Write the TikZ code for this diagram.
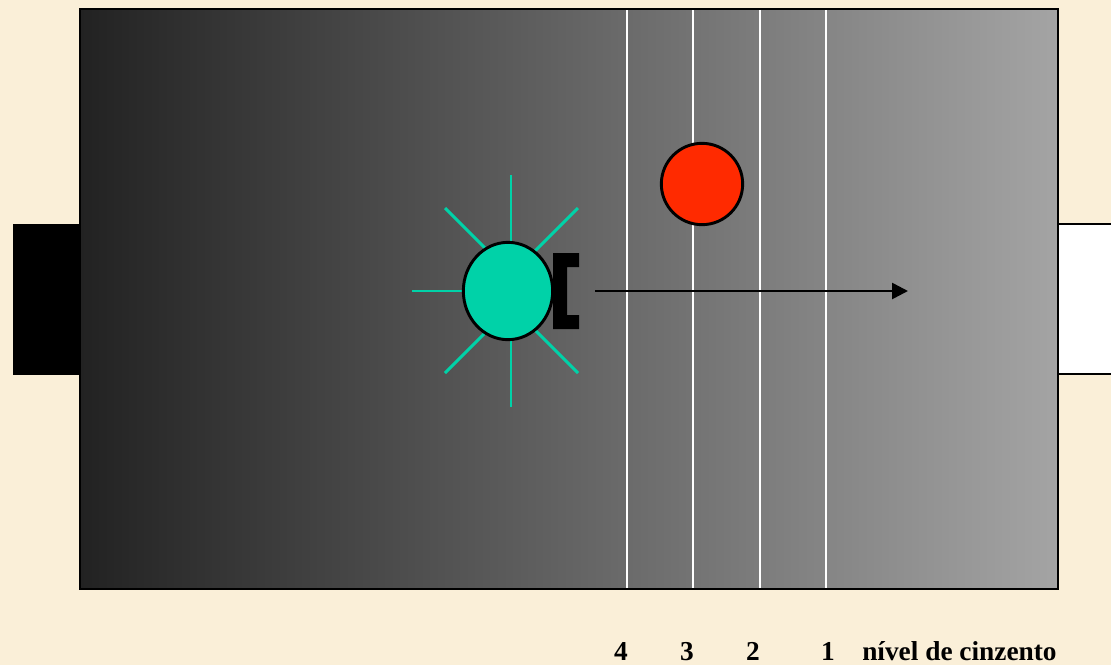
\documentclass[tikz,border=0pt]{standalone}
\usepackage{fontspec}
\setmainfont{Liberation Serif}
\usetikzlibrary{arrows.meta,shapes.geometric}
\definecolor{parch}{RGB}{250,239,216}
\definecolor{teal1}{RGB}{0,210,168}
\definecolor{red1}{RGB}{255,42,0}
\definecolor{gdark}{RGB}{34,34,34}
\definecolor{glight}{RGB}{164,164,164}
\tikzset{
  frame/.style={draw=black,line width=2.2pt},
  level/.style={draw=white,line width=2pt},
  ray/.style={draw=teal1,line width=2.2pt},
  ball/.style={draw=black,line width=2.2pt,inner sep=0pt},
  lbl/.style={font=\bfseries\fontsize{20.5}{23}\selectfont,anchor=base,inner sep=0pt}
}
\begin{document}
\begin{tikzpicture}[x=0.75pt,y=-0.75pt]
\useasboundingbox (0,0) rectangle (1111,665);
\fill[parch] (0,0) rectangle (1111,665);
% side blocks
\fill[black] (13,224) rectangle (82,375);
\draw[frame,fill=white] (1058,224) rectangle (1118,374);
% main box with gradient
\shade[left color=gdark,right color=glight] (80,9) rectangle (1058,589);
% level lines
\foreach \x in {627,693,760,826}{
  \draw[level] (\x,9) -- (\x,589);
}
\draw[frame] (80,9) rectangle (1058,589);
% red ball
\node[ball,fill=red1,circle,minimum size=61pt] (red) at (702,184) {};
% teal light with rays
\coordinate (rc) at (511,291);
\draw[ray] (rc) -- (511,175);
\draw[ray] (rc) -- (511,407);
\draw[ray] (rc) -- (412,291);
\draw[ray] (445,208) -- (490,253);
\draw[ray] (578,208) -- (533,253);
\draw[ray] (445,373) -- (490,328);
\draw[ray] (578,373) -- (533,328);
\node[ball,fill=teal1,ellipse,minimum width=67pt,minimum height=73pt] (sun) at (508,291) {};
% bracket
\fill[black] (553,253) -- (579,253) -- (579,267) -- (567,267) -- (567,315) -- (579,315) -- (579,329) -- (553,329) -- cycle;
% arrow
\coordinate (as) at (595,291);
\coordinate (ae) at (908,291);
\draw[line width=2pt,-{Triangle[length=12pt,width=12pt]}] (as) -- (ae);
% labels
\node[lbl] (t4) at (621,660) {4};
\node[lbl] (t3) at (687,660) {3};
\node[lbl] (t2) at (753,660) {2};
\node[lbl] (t1) at (828,660) {1};
\node[lbl,anchor=base west] (tn) at (862,660) {nível de cinzento};
\end{tikzpicture}
\end{document}
